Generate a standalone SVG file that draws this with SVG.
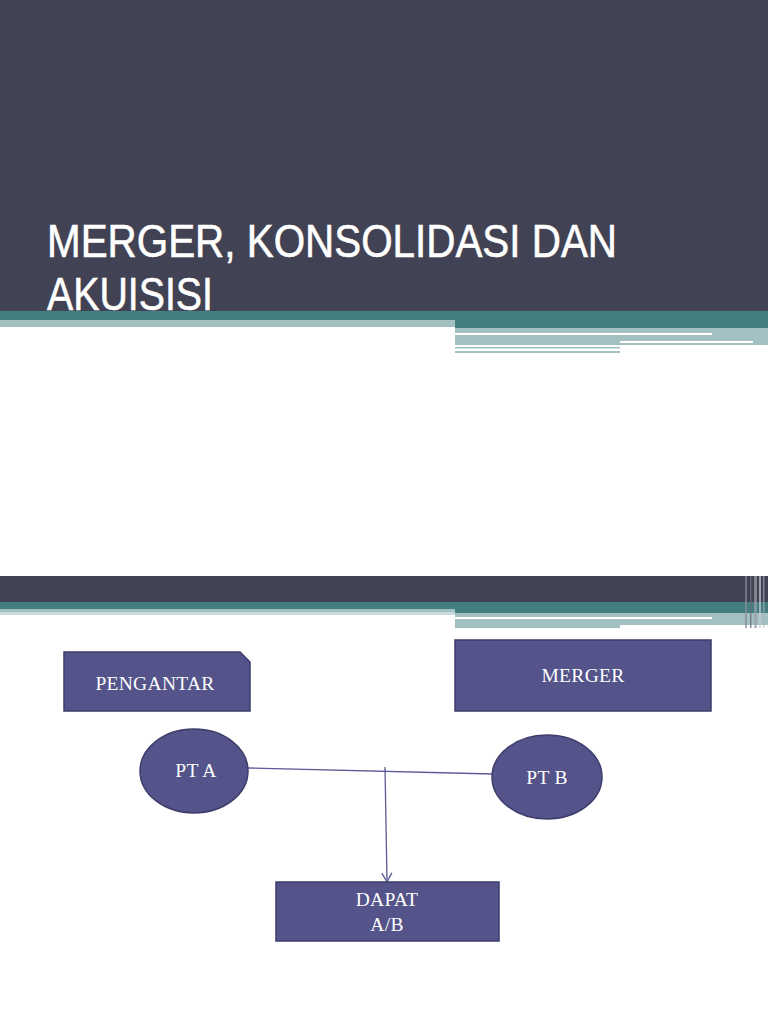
<svg xmlns="http://www.w3.org/2000/svg" width="768" height="1024" viewBox="0 0 768 1024">
<style>
.dark{fill:#414254}
.teal{fill:#437E80}
.lite{fill:#A2C0C2}
.wht{fill:#FFFFFF}
.box{fill:#54538A;stroke:#3E3D6C;stroke-width:1.5}
.lbl{font-family:"Liberation Serif","Times New Roman",serif;font-size:19.5px;letter-spacing:0.3px;fill:#FFFFFF;text-anchor:middle}
.title{font-family:"Liberation Sans",Arial,sans-serif;font-size:46px;fill:#FFFFFF}
.conn{stroke:#5B5A98;stroke-width:1.3;fill:none}
</style>
<defs>
<marker id="arr" markerWidth="12" markerHeight="12" refX="10" refY="6" orient="auto" markerUnits="userSpaceOnUse">
<path d="M1,1 L10,6 L1,11" fill="none" stroke="#5B5A98" stroke-width="1.3"/>
</marker>
</defs>
<rect width="768" height="1024" fill="#FFFFFF"/>
<g id="slide1-header">
<rect class="dark" x="0" y="0" width="768" height="311"/>
<rect class="teal" x="0" y="311" width="768" height="9"/>
<rect class="teal" x="455" y="320" width="313" height="8"/>
<rect class="lite" x="0" y="320" width="455" height="7"/>
<rect class="lite" x="455" y="328" width="313" height="17"/>
<rect class="wht" x="455" y="333" width="257" height="2"/>
<rect class="wht" x="620" y="341" width="133" height="2"/>
<rect class="lite" x="455" y="347" width="165" height="1.5"/>
<rect class="lite" x="455" y="351" width="165" height="2"/>
<text class="title" x="47" y="257" textLength="570" lengthAdjust="spacingAndGlyphs" stroke="#FFFFFF" stroke-width="0.6">MERGER, KONSOLIDASI DAN</text>
<text class="title" x="47" y="310" textLength="166" lengthAdjust="spacingAndGlyphs" stroke="#FFFFFF" stroke-width="0.6">AKUISISI</text>
</g>
<g id="slide2-header">
<rect class="dark" x="0" y="576" width="768" height="26"/>
<rect class="teal" x="0" y="602" width="768" height="7"/>
<rect class="teal" x="455" y="609" width="313" height="4"/>
<rect class="lite" x="0" y="609" width="455" height="3"/>
<rect fill="#C9DCDD" x="0" y="612" width="455" height="3"/>
<rect class="lite" x="455" y="613" width="313" height="15"/>
<rect class="wht" x="455" y="617" width="257" height="2"/>
<rect class="wht" x="620" y="625" width="148" height="3"/>
<rect fill="#8A8B95" x="745" y="576" width="2" height="52" opacity="0.7"/>
<rect fill="#6E6F7C" x="750" y="576" width="1.5" height="52" opacity="0.8"/>
<rect fill="#9EA0A8" x="754" y="576" width="3" height="52" opacity="0.7"/>
<rect fill="#C8CACE" x="759" y="576" width="2" height="52" opacity="0.7"/>
<rect fill="#B0B2B8" x="763" y="576" width="1.5" height="52" opacity="0.6"/>
</g>
<g id="connectors">
<line class="conn" x1="248" y1="768" x2="493" y2="774"/>
<line class="conn" x1="385" y1="767" x2="387" y2="882" marker-end="url(#arr)"/>
</g>
<g id="pengantar">
<path class="box" d="M64,652 H240 L250,662 V711 H64 Z"/>
<text class="lbl" x="155" y="690">PENGANTAR</text>
</g>
<g id="merger">
<rect class="box" x="455" y="640" width="256" height="71"/>
<text class="lbl" x="583" y="682">MERGER</text>
</g>
<g id="pt-a">
<ellipse class="box" cx="194" cy="771" rx="54" ry="42"/>
<text class="lbl" x="196" y="777">PT A</text>
</g>
<g id="pt-b">
<ellipse class="box" cx="547" cy="777" rx="55" ry="42"/>
<text class="lbl" x="547" y="784">PT B</text>
</g>
<g id="dapat">
<rect class="box" x="276" y="882" width="223" height="59"/>
<text class="lbl" x="387" y="906">DAPAT</text>
<text class="lbl" x="387" y="931">A/B</text>
</g>
</svg>
